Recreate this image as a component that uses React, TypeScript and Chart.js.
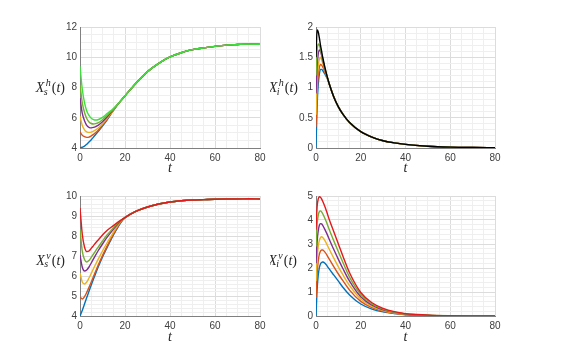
import React, { useEffect, useRef } from "react";
import { Chart, registerables } from "chart.js";

Chart.register(...registerables);

// ---------- colours ----------
const BLUE = "#0072BD";
const ORANGE = "#D95319";
const YELLOW = "#EDB120";
const PURPLE = "#7E2F8E";
const OLIVE = "#77AC30";
const BRIGHT_GREEN = "#3ddf3d";
const BLACK = "#000000";
const RED = "#e3191c";

// ---------- top-left: X_s^h(t) ----------
const TL_T_HEAD = [0, 1, 2, 3, 4, 5, 6, 7, 8, 10, 12, 14, 16];
const TL_T_TAIL = [18, 20, 25, 30, 35, 40, 45, 50, 55, 60, 65, 70, 75, 80];
const TL_TAIL = [7.1, 7.45, 8.3, 9.05, 9.6, 10.02, 10.3, 10.5, 10.62, 10.72, 10.8, 10.84, 10.87, 10.85];
const TL_BLUE = [4.0, 4.05, 4.12, 4.25, 4.4, 4.55, 4.72, 4.9, 5.08, 5.45, 5.85, 6.3, 6.72];
const TL_ORANGE = [5.05, 4.85, 4.75, 4.7, 4.72, 4.8, 4.9, 5.02, 5.16, 5.5, 5.9, 6.32, 6.73];
const TL_YELLOW = [6.1, 5.5, 5.2, 5.07, 5.03, 5.05, 5.12, 5.2, 5.3, 5.6, 5.96, 6.35, 6.74];
const TL_PURPLE = [7.3, 6.3, 5.8, 5.5, 5.37, 5.33, 5.36, 5.42, 5.5, 5.74, 6.05, 6.4, 6.75];
const TL_OLIVE = [8.2, 7.0, 6.35, 5.95, 5.72, 5.62, 5.59, 5.61, 5.66, 5.87, 6.15, 6.45, 6.76];
const TL_GREEN = [9.4, 7.9, 7.0, 6.45, 6.15, 5.97, 5.88, 5.85, 5.87, 6.02, 6.27, 6.5, 6.77];

// ---------- top-right: X_i^h(t) ----------
const TR_T_HEAD = [0, 0.5, 1, 1.5, 2, 2.5, 3, 4, 5];
const TR_T_TAIL = [6, 8, 10, 12, 15, 20, 25, 30, 35, 40, 50, 60, 70, 80];
const TR_TAIL = [1.05, 0.84, 0.68, 0.56, 0.42, 0.27, 0.18, 0.12, 0.085, 0.06, 0.03, 0.015, 0.008, 0.004];
const TR_BLUE = [0, 0.7, 1.05, 1.22, 1.3, 1.3, 1.28, 1.22, 1.15];
const TR_ORANGE = [0.35, 0.9, 1.2, 1.33, 1.38, 1.37, 1.34, 1.25, 1.16];
const TR_YELLOW = [0.55, 1.1, 1.35, 1.47, 1.5, 1.46, 1.4, 1.28, 1.17];
const TR_PURPLE = [0.9, 1.35, 1.55, 1.62, 1.6, 1.53, 1.45, 1.3, 1.18];
const TR_OLIVE = [1.2, 1.6, 1.72, 1.7, 1.63, 1.55, 1.47, 1.32, 1.18];
const TR_BLACK = [1.5, 1.95, 1.92, 1.82, 1.7, 1.6, 1.5, 1.33, 1.18];

// ---------- bottom-left: X_s^v(t) ----------
const BL_T_HEAD = [0, 1, 2, 3, 4, 5, 6, 7, 8, 10, 12, 14, 16, 18];
const BL_T_TAIL = [20, 25, 30, 35, 40, 45, 50, 55, 60, 65, 70, 75, 80];
const BL_TAIL = [8.92, 9.24, 9.45, 9.6, 9.7, 9.76, 9.8, 9.82, 9.84, 9.85, 9.85, 9.86, 9.85];
const BL_BLUE = [4.0, 4.28, 4.6, 4.92, 5.24, 5.55, 5.85, 6.14, 6.42, 6.95, 7.42, 7.87, 8.28, 8.65];
const BL_ORANGE = [4.95, 4.85, 4.97, 5.18, 5.43, 5.7, 5.98, 6.25, 6.52, 7.02, 7.48, 7.92, 8.32, 8.68];
const BL_YELLOW = [6.15, 5.7, 5.6, 5.7, 5.9, 6.13, 6.37, 6.6, 6.82, 7.25, 7.65, 8.02, 8.4, 8.71];
const BL_PURPLE = [7.05, 6.45, 6.25, 6.3, 6.45, 6.65, 6.86, 7.06, 7.25, 7.6, 7.93, 8.22, 8.5, 8.74];
const BL_OLIVE = [8.35, 7.25, 6.82, 6.7, 6.78, 6.93, 7.1, 7.27, 7.43, 7.75, 8.05, 8.3, 8.55, 8.76];
const BL_RED = [9.4, 8.1, 7.45, 7.22, 7.25, 7.38, 7.52, 7.66, 7.79, 8.05, 8.27, 8.45, 8.62, 8.78];

// ---------- bottom-right: X_i^v(t) ----------
const BR_T = [0, 0.5, 1, 1.5, 2, 2.5, 3, 4, 5, 6, 8, 10, 12, 15, 20, 25, 30, 35, 40, 45, 50, 60, 70, 80];
const BR_BLUE = [0, 1.1, 1.7, 2.02, 2.17, 2.23, 2.25, 2.2, 2.08, 1.95, 1.7, 1.45, 1.2, 0.88, 0.5, 0.29, 0.17, 0.1, 0.055, 0.033, 0.018, 0.006, 0.002, 0.001];
const BR_ORANGE = [0.75, 1.75, 2.3, 2.58, 2.7, 2.75, 2.75, 2.66, 2.52, 2.36, 2.05, 1.75, 1.47, 1.08, 0.61, 0.35, 0.2, 0.115, 0.065, 0.04, 0.022, 0.007, 0.002, 0.001];
const BR_YELLOW = [1.45, 2.4, 2.9, 3.15, 3.27, 3.3, 3.27, 3.14, 2.96, 2.77, 2.4, 2.05, 1.72, 1.27, 0.71, 0.4, 0.23, 0.13, 0.075, 0.045, 0.025, 0.008, 0.003, 0.001];
const BR_PURPLE = [2.2, 3.1, 3.55, 3.78, 3.85, 3.84, 3.78, 3.6, 3.4, 3.18, 2.76, 2.36, 1.98, 1.45, 0.8, 0.45, 0.26, 0.15, 0.085, 0.05, 0.028, 0.009, 0.003, 0.001];
const BR_OLIVE = [2.9, 3.8, 4.2, 4.35, 4.38, 4.34, 4.26, 4.06, 3.83, 3.58, 3.12, 2.68, 2.24, 1.62, 0.9, 0.5, 0.29, 0.16, 0.09, 0.055, 0.03, 0.01, 0.004, 0.001];
const BR_RED = [3.6, 4.55, 4.88, 4.97, 4.95, 4.88, 4.78, 4.55, 4.28, 4.0, 3.5, 3.0, 2.5, 1.8, 0.98, 0.55, 0.32, 0.18, 0.1, 0.06, 0.035, 0.012, 0.004, 0.001];

// ---------- axes ----------
const X_MIN = 0;
const X_MAX = 80;
const X_MAJOR = 20;
const X_MINOR = 5;

const FONT_SANS = '"Liberation Sans", Arial, sans-serif';
const FONT_SERIF = '"Liberation Serif", "Times New Roman", serif';

function pts(times: number[], vals: number[]) {
  return times.map((t, i) => ({ x: t, y: vals[i] }));
}

function headTail(tHead: number[], head: number[], tTail: number[], tail: number[]) {
  return pts(tHead.concat(tTail), head.concat(tail));
}

function isMajor(v: number, major: number) {
  const r = v / major;
  return Math.abs(r - Math.round(r)) < 1e-6;
}

function fmt(v: number) {
  return String(Math.round(v * 100) / 100);
}

const labelPlugin = {
  id: "mathLabels",
  afterDraw(chart: any, _args: any, opts: any) {
    const { ctx, chartArea } = chart;
    const size = 14;
    const small = 10;
    ctx.save();
    ctx.fillStyle = "#262626";
    ctx.textBaseline = "alphabetic";
    ctx.textAlign = "left";
    const fI = `italic ${size}px ${FONT_SERIF}`;
    const fU = `${size}px ${FONT_SERIF}`;
    const fS = `italic ${small}px ${FONT_SERIF}`;
    ctx.font = fI;
    const wX = ctx.measureText("X").width;
    const wt = ctx.measureText("t").width;
    ctx.font = fS;
    const wScr = Math.max(ctx.measureText(opts.sub).width, ctx.measureText(opts.sup).width);
    ctx.font = fU;
    const wL = ctx.measureText("(").width;
    const wR = ctx.measureText(")").width;
    const total = wX + 1 + wScr + 1.5 + wL + wt + wR;
    const cy = (chartArea.top + chartArea.bottom) / 2 + opts.dy;
    const base = cy + size * 0.33;
    let x = chartArea.left - opts.gap - total;
    ctx.font = fI;
    ctx.fillText("X", x, base);
    x += wX;
    ctx.font = fS;
    ctx.fillText(opts.sup, x + 1.5, base - size * 0.42);
    ctx.fillText(opts.sub, x - 0.5, base + size * 0.2);
    x += 1 + wScr + 1.5;
    ctx.font = fU;
    ctx.fillText("(", x, base);
    x += wL;
    ctx.font = fI;
    ctx.fillText("t", x, base);
    x += wt;
    ctx.font = fU;
    ctx.fillText(")", x, base);
    // x label
    ctx.font = fI;
    ctx.textAlign = "center";
    ctx.fillText("t", (chartArea.left + chartArea.right) / 2, chartArea.bottom + opts.xLabelOffset);
    ctx.restore();
  },
};

type Series = { color: string; data: { x: number; y: number }[] };

type PanelProps = {
  left: number;
  top: number;
  width: number;
  height: number;
  padding: { left: number; right: number; top: number; bottom: number };
  yMin: number;
  yMax: number;
  yMajor: number;
  yMinor: number;
  series: Series[];
  sub: string;
  sup: string;
  gap: number;
  dy: number;
  xLabelOffset: number;
};

function Panel(p: PanelProps) {
  const ref = useRef<HTMLCanvasElement | null>(null);
  useEffect(() => {
    if (!ref.current) return;
    const majorGrid = "#dcdcdc";
    const minorGrid = "#efefef";
    const tickColor = "#404040";
    const axisColor = "#808080";
    const datasets = p.series
      .slice()
      .reverse()
      .map((s) => ({
        data: s.data,
        borderColor: s.color,
        backgroundColor: s.color,
        borderWidth: 1.4,
        pointRadius: 0,
        fill: false,
        cubicInterpolationMode: "monotone" as const,
      }));
    const chart = new Chart(ref.current, {
      type: "line",
      data: { datasets },
      options: {
        animation: false,
        responsive: false,
        devicePixelRatio: 1,
        layout: { padding: p.padding },
        plugins: {
          legend: { display: false },
          tooltip: { enabled: false },
          mathLabels: { sub: p.sub, sup: p.sup, gap: p.gap, dy: p.dy, xLabelOffset: p.xLabelOffset },
        } as any,
        scales: {
          x: {
            type: "linear",
            min: X_MIN,
            max: X_MAX,
            afterFit: (s: any) => {
              s.height = 24;
            },
            ticks: {
              stepSize: X_MINOR,
              maxTicksLimit: 1000,
              autoSkip: false,
              maxRotation: 0,
              padding: 4,
              color: tickColor,
              font: { family: FONT_SANS, size: 10 },
              callback: (v: any) => (isMajor(Number(v), X_MAJOR) ? fmt(Number(v)) : ""),
            },
            grid: {
              drawTicks: false,
              lineWidth: 1,
              color: (c: any) => (c.tick && isMajor(c.tick.value, X_MAJOR) ? majorGrid : minorGrid),
            },
            border: { display: true, color: axisColor, width: 1 },
          },
          y: {
            type: "linear",
            min: p.yMin,
            max: p.yMax,
            afterFit: (s: any) => {
              s.width = 30;
            },
            ticks: {
              stepSize: p.yMinor,
              maxTicksLimit: 1000,
              autoSkip: false,
              padding: 3,
              color: tickColor,
              font: { family: FONT_SANS, size: 10 },
              callback: (v: any) => (isMajor(Number(v), p.yMajor) ? fmt(Number(v)) : ""),
            },
            grid: {
              drawTicks: false,
              lineWidth: 1,
              color: (c: any) => (c.tick && isMajor(c.tick.value, p.yMajor) ? majorGrid : minorGrid),
            },
            border: { display: true, color: axisColor, width: 1 },
          },
        },
      },
      plugins: [labelPlugin],
    });
    return () => chart.destroy();
  }, []);
  return (
    <canvas
      ref={ref}
      width={p.width}
      height={p.height}
      style={{ position: "absolute", left: p.left, top: p.top, width: p.width, height: p.height }}
    />
  );
}

export default function App() {
  const tl: Series[] = [
    { color: BLUE, data: headTail(TL_T_HEAD, TL_BLUE, TL_T_TAIL, TL_TAIL) },
    { color: ORANGE, data: headTail(TL_T_HEAD, TL_ORANGE, TL_T_TAIL, TL_TAIL) },
    { color: YELLOW, data: headTail(TL_T_HEAD, TL_YELLOW, TL_T_TAIL, TL_TAIL) },
    { color: PURPLE, data: headTail(TL_T_HEAD, TL_PURPLE, TL_T_TAIL, TL_TAIL) },
    { color: OLIVE, data: headTail(TL_T_HEAD, TL_OLIVE, TL_T_TAIL, TL_TAIL) },
    { color: BRIGHT_GREEN, data: headTail(TL_T_HEAD, TL_GREEN, TL_T_TAIL, TL_TAIL) },
  ];
  const tr: Series[] = [
    { color: BLUE, data: headTail(TR_T_HEAD, TR_BLUE, TR_T_TAIL, TR_TAIL) },
    { color: ORANGE, data: headTail(TR_T_HEAD, TR_ORANGE, TR_T_TAIL, TR_TAIL) },
    { color: YELLOW, data: headTail(TR_T_HEAD, TR_YELLOW, TR_T_TAIL, TR_TAIL) },
    { color: PURPLE, data: headTail(TR_T_HEAD, TR_PURPLE, TR_T_TAIL, TR_TAIL) },
    { color: OLIVE, data: headTail(TR_T_HEAD, TR_OLIVE, TR_T_TAIL, TR_TAIL) },
    { color: BLACK, data: headTail(TR_T_HEAD, TR_BLACK, TR_T_TAIL, TR_TAIL) },
  ];
  const bl: Series[] = [
    { color: BLUE, data: headTail(BL_T_HEAD, BL_BLUE, BL_T_TAIL, BL_TAIL) },
    { color: ORANGE, data: headTail(BL_T_HEAD, BL_ORANGE, BL_T_TAIL, BL_TAIL) },
    { color: YELLOW, data: headTail(BL_T_HEAD, BL_YELLOW, BL_T_TAIL, BL_TAIL) },
    { color: PURPLE, data: headTail(BL_T_HEAD, BL_PURPLE, BL_T_TAIL, BL_TAIL) },
    { color: OLIVE, data: headTail(BL_T_HEAD, BL_OLIVE, BL_T_TAIL, BL_TAIL) },
    { color: RED, data: headTail(BL_T_HEAD, BL_RED, BL_T_TAIL, BL_TAIL) },
  ];
  const br: Series[] = [
    { color: BLUE, data: pts(BR_T, BR_BLUE) },
    { color: ORANGE, data: pts(BR_T, BR_ORANGE) },
    { color: YELLOW, data: pts(BR_T, BR_YELLOW) },
    { color: PURPLE, data: pts(BR_T, BR_PURPLE) },
    { color: OLIVE, data: pts(BR_T, BR_OLIVE) },
    { color: RED, data: pts(BR_T, BR_RED) },
  ];
  return (
    <div style={{ position: "fixed", left: 0, top: 0, width: 563, height: 345, background: "#fff", overflow: "hidden" }}>
      <Panel left={0} top={0} width={270} height={172}
        padding={{ left: 50, right: 10, top: 27, bottom: 0 }}
        yMin={4} yMax={12} yMajor={2} yMinor={0.5} series={tl}
        sub="s" sup="h" gap={15} dy={0} xLabelOffset={24} />
      <Panel left={270} top={0} width={293} height={172}
        padding={{ left: 16, right: 68, top: 27, bottom: 0 }}
        yMin={0} yMax={2} yMajor={0.5} yMinor={0.1} series={tr}
        sub="i" sup="h" gap={18} dy={0} xLabelOffset={24} />
      <Panel left={0} top={172} width={270} height={173}
        padding={{ left: 50, right: 10, top: 24, bottom: 5 }}
        yMin={4} yMax={10} yMajor={1} yMinor={0.2} series={bl}
        sub="s" sup="v" gap={15} dy={4} xLabelOffset={25} />
      <Panel left={270} top={172} width={293} height={173}
        padding={{ left: 16, right: 68, top: 24, bottom: 5 }}
        yMin={0} yMax={5} yMajor={1} yMinor={0.2} series={br}
        sub="i" sup="v" gap={19} dy={4} xLabelOffset={25} />
    </div>
  );
}
